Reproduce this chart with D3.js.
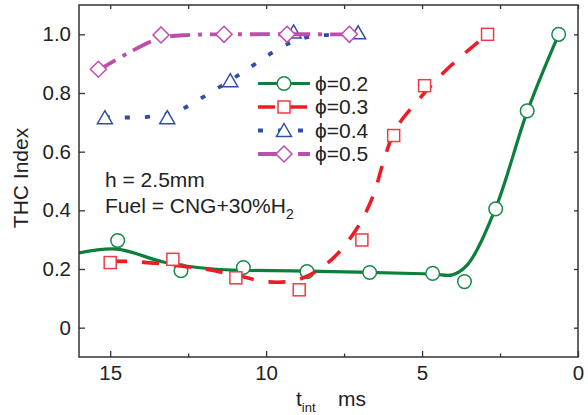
<!DOCTYPE html>
<html>
<head>
<meta charset="utf-8">
<script src="https://cdn.jsdelivr.net/npm/d3@7"></script>
<style>
  body { margin: 0; background: #fff; }
  svg text { font-family: 'Liberation Sans', Arial, sans-serif; fill: #222; }
</style>
</head>
<body>
<div id="app"></div>
<script>
const width = 588;
const height = 415;

// measured points (t_int in ms, THC index)
const t02 = [14.76, 12.73, 10.73, 8.69, 6.68, 4.66, 3.64, 2.64, 1.63, 0.62];
const thc02 = [0.297, 0.194, 0.205, 0.191, 0.188, 0.185, 0.157, 0.405, 0.739, 1.0];
const t03 = [15.0, 12.99, 10.97, 8.94, 6.93, 5.91, 4.92, 2.90];
const thc03 = [0.222, 0.233, 0.170, 0.129, 0.299, 0.655, 0.825, 1.0];
const t04 = [15.17, 13.17, 11.15, 9.12, 7.05];
const thc04 = [0.716, 0.716, 0.842, 1.008, 1.005];
const t05 = [15.38, 13.37, 11.35, 9.33, 7.33];
const thc05 = [0.881, 0.998, 1.0, 1.0, 1.0];

// fitted curves
const fitT02 = [16.0, 14.78, 13.30, 11.70, 8.68, 4.67, 4.03, 3.55, 2.65, 1.62, 0.62];
const fitThc02 = [0.255, 0.268, 0.224, 0.200, 0.193, 0.183, 0.180, 0.214, 0.405, 0.739, 1.0];
const fitT03 = [15.0, 14.04, 12.12, 11.0, 9.93, 8.91, 7.91, 7.08, 6.56, 6.25, 5.86, 5.12, 4.16, 2.91];
const fitThc03 = [0.227, 0.224, 0.202, 0.180, 0.156, 0.166, 0.231, 0.340, 0.452, 0.561, 0.674, 0.776, 0.885, 1.0];
const fitT04 = [15.17, 13.88, 12.92, 12.12, 10.83, 9.55, 8.91, 8.27, 7.05];
const fitThc04 = [0.718, 0.718, 0.735, 0.780, 0.865, 0.954, 0.984, 0.996, 1.0];
const fitT05 = [15.38, 14.36, 13.37, 12.44, 11.35, 7.33];
const fitThc05 = [0.877, 0.940, 0.988, 0.998, 1.0, 1.0];

const labels = ['\u03D5=0.2', '\u03D5=0.3', '\u03D5=0.4', '\u03D5=0.5'];
const xTicks = [15, 10, 5, 0];
const xMinor = [12.5, 7.5, 2.5];
const yTicks = [0, 0.2, 0.4, 0.6, 0.8, 1.0];

const series = [
  {t: t02, v: thc02, ft: fitT02, fv: fitThc02, color: '#0d7f3c', mcolor: '#1a8a48', dash: null, lw: 3.2, symbol: 'circle'},
  {t: t03, v: thc03, ft: fitT03, fv: fitThc03, color: '#ee1c25', mcolor: '#f03a45', dash: '17,15', lw: 3.6, symbol: 'square'},
  {t: t04, v: thc04, ft: fitT04, fv: fitThc04, color: '#2f4fa6', mcolor: '#2f4fa6', dash: '5,15', lw: 3.8, symbol: 'triangle'},
  {t: t05, v: thc05, ft: fitT05, fv: fitThc05, color: '#bf4dac', mcolor: '#bf4dac', dash: '20,8,4,8', lw: 3.8, symbol: 'diamond'},
];

const margin = {left: 79, right: 10, top: 5, bottom: 58};
const x = d3.scaleLinear().domain([16, 0]).range([margin.left, width - margin.right]);
const y = d3.scaleLinear().domain([-0.1, 1.1]).range([height - margin.bottom, margin.top]);

const svg = d3.create('svg').attr('width', width).attr('height', height);

svg.append('defs').append('clipPath').attr('id', 'plot')
  .append('rect')
  .attr('x', margin.left).attr('y', margin.top)
  .attr('width', width - margin.left - margin.right)
  .attr('height', height - margin.top - margin.bottom);

function marker(sel, s, cx, cy) {
  if (s.symbol === 'circle') {
    sel.append('circle').attr('cx', cx).attr('cy', cy).attr('r', 6.8);
  } else if (s.symbol === 'square') {
    sel.append('rect').attr('x', cx - 6).attr('y', cy - 6).attr('width', 12).attr('height', 12);
  } else if (s.symbol === 'triangle') {
    sel.append('path').attr('d', `M${cx},${cy - 7}L${cx + 7.5},${cy + 6}L${cx - 7.5},${cy + 6}Z`);
  } else {
    sel.append('path').attr('d', `M${cx},${cy - 8}L${cx + 8},${cy}L${cx},${cy + 8}L${cx - 8},${cy}Z`);
  }
}

const line = d3.line()
  .x((d)=>x(d[0]))
  .y((d)=>y(d[1]))
  .curve(d3.curveCatmullRom.alpha(0.5));

const plot = svg.append('g').attr('clip-path', 'url(#plot)');

series.forEach((s)=>{
  const pts = s.ft.map((t, i)=>[t, s.fv[i]]);
  plot.append('path')
    .attr('d', line(pts))
    .attr('fill', 'none')
    .attr('stroke', s.color)
    .attr('stroke-width', s.lw)
    .attr('stroke-dasharray', s.dash);
  const g = plot.append('g')
    .attr('fill', '#fff')
    .attr('stroke', s.mcolor)
    .attr('stroke-width', 1.5);
  s.t.forEach((t, i)=>marker(g, s, x(t), y(s.v[i])));
});

// axes, ticks pointing inward
const fmt = (d)=>d === 0 ? '0' : d3.format('.1f')(d);
const axisStyle = (g)=>{
  g.select('.domain').remove();
  g.selectAll('line').attr('stroke', '#333').attr('stroke-width', 1.3);
  g.selectAll('text').attr('font-size', 20.5).attr('fill', '#222')
    .attr('font-family', '\'Liberation Sans\', Arial, sans-serif');
};

svg.append('g')
  .attr('transform', `translate(0,${y(-0.1)})`)
  .call(d3.axisBottom(x).tickValues(xTicks).tickSize(-6).tickPadding(8).tickFormat(d3.format('d')))
  .call(axisStyle);
svg.append('g')
  .attr('transform', `translate(0,${y(-0.1)})`)
  .call(d3.axisBottom(x).tickValues(xMinor).tickSize(-3.5).tickFormat(''))
  .call(axisStyle);
svg.append('g')
  .attr('transform', `translate(0,${y(1.1)})`)
  .call(d3.axisTop(x).tickValues(xTicks.concat(xMinor)).tickSize(-4).tickFormat(''))
  .call(axisStyle);
svg.append('g')
  .attr('transform', `translate(${x(16)},0)`)
  .call(d3.axisLeft(y).tickValues(yTicks).tickSize(-6).tickPadding(8).tickFormat(fmt))
  .call(axisStyle);
svg.append('g')
  .attr('transform', `translate(${x(0)},0)`)
  .call(d3.axisRight(y).tickValues(yTicks).tickSize(-4).tickFormat(''))
  .call(axisStyle);

svg.append('rect')
  .attr('x', x(16)).attr('y', y(1.1))
  .attr('width', x(0) - x(16)).attr('height', y(-0.1) - y(1.1))
  .attr('fill', 'none').attr('stroke', '#333').attr('stroke-width', 1.5);

// axis titles
svg.append('text')
  .attr('transform', `translate(28,178) rotate(-90)`)
  .attr('text-anchor', 'middle')
  .attr('font-size', 21)
  .text('THC Index');

const xt = svg.append('text').attr('x', 296).attr('y', 406).attr('font-size', 21);
xt.append('tspan').text('t');
xt.append('tspan').attr('font-size', 13).attr('dy', 6).text('int');
xt.append('tspan').attr('x', 338).attr('dy', -6).text('ms');

// annotation
svg.append('text').attr('x', 105).attr('y', 187).attr('font-size', 21).text('h = 2.5mm');
const fuel = svg.append('text').attr('x', 105).attr('y', 213).attr('font-size', 21);
fuel.append('tspan').text('Fuel = CNG+30%H');
fuel.append('tspan').attr('font-size', 14).attr('dy', 6).text('2');

// legend
const legend = svg.append('g');
series.forEach((s, i)=>{
  const ly = 83.5 + i * 23.5;
  legend.append('line')
    .attr('x1', 258).attr('x2', 310).attr('y1', ly).attr('y2', ly)
    .attr('stroke', s.color).attr('stroke-width', s.lw)
    .attr('stroke-dasharray', s.dash);
  const g = legend.append('g').attr('fill', '#fff').attr('stroke', s.mcolor).attr('stroke-width', 1.5);
  marker(g, s, 284, ly);
  legend.append('text').attr('x', 315).attr('y', ly + 7).attr('font-size', 21).text(labels[i]);
});

document.getElementById('app').appendChild(svg.node());
</script>
</body>
</html>
